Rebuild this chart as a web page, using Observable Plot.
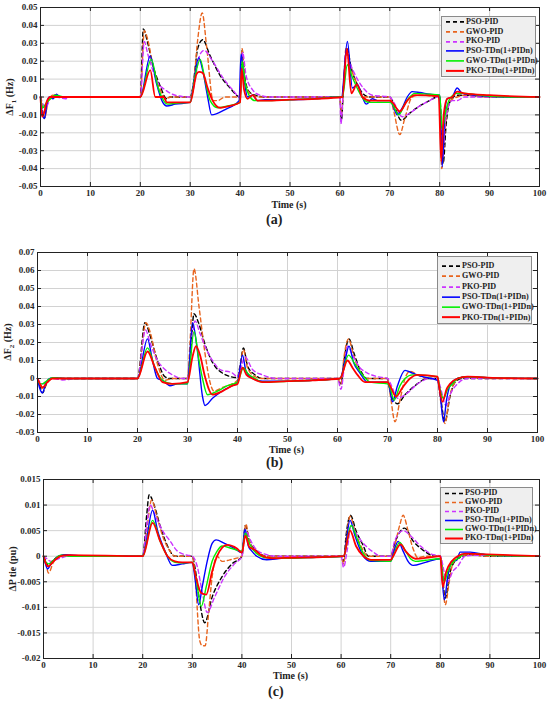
<!DOCTYPE html>
<html><head><meta charset="utf-8">
<script src="https://cdn.jsdelivr.net/npm/d3@7"></script>
<script src="https://cdn.jsdelivr.net/npm/@observablehq/plot@0.6"></script>
<style>
body{margin:0;background:#fff;}
#root{position:relative;width:550px;height:705px;font-family:"Liberation Serif","DejaVu Serif",serif;font-weight:bold;color:#222;background:#fff;overflow:hidden;}
.panel{position:absolute;left:0;}
.lbl{position:absolute;font-size:10px;font-weight:bold;white-space:nowrap;line-height:1;}
.cap{position:absolute;font-size:14px;font-weight:bold;line-height:1;}
.ylbl{position:absolute;font-size:10px;font-weight:bold;white-space:nowrap;transform:translate(-50%,-50%) rotate(-90deg);}
.legend{position:absolute;background:#efefef;border:1px solid #8a8a8a;font-size:8.1px;box-sizing:border-box;padding-left:3px;white-space:nowrap;overflow:visible;}
.li{display:flex;align-items:center;white-space:nowrap;}
.li svg{flex:none;}
.li span{margin-left:1px;line-height:1;white-space:nowrap;flex:none;}
</style></head>
<body><div id="root"></div>
<script>
const SERIES = ["PSO-PID","GWO-PID","PKO-PID","PSO-TDn(1+PIDn)","GWO-TDn(1+PIDn)","PKO-TDn(1+PIDn)"];
const COLORS = ["#000000","#e8641e","#cc33ff","#0000ff","#00f000","#ff0000"];
const DASH = ["4,3","4,3","4,3",null,null,null];
const WIDTHS = [1.4,1.4,1.4,1.4,1.4,1.8];
const X_TICKS = [0,10,20,30,40,50,60,70,80,90,100];

// ---- Panel (a): ΔF1 ----
const A_YTICKS = [-0.05,-0.04,-0.03,-0.02,-0.01,0,0.01,0.02,0.03,0.04,0.05];
const A_PSO_PID = [[0,0],[0.3,-0.006],[0.8,-0.012],[1.3,-0.004],[2,0],[3,0.001],[4,0],[20,0],[20.6,0.038],[21.5,0.03],[22.5,0.018],[24,0.006],[25.3,-0.001],[26,0],[30,0],[30.5,0.005],[31.5,0.027],[32.5,0.032],[34,0.023],[36,0.012],[38,0.005],[40,0],[40.4,0.026],[41,0.01],[41.8,0.003],[43,0.001],[45,0],[60,0],[60.3,-0.013],[60.8,0.01],[61.4,0.027],[62.3,0.016],[63.5,0.007],[65,0.001],[66,0],[70,0],[70.5,-0.002],[72.3,-0.013],[74,-0.009],[76,-0.005],[78,-0.002],[79.5,0],[80,0],[80.7,-0.037],[81.3,-0.015],[82,-0.003],[83.5,0.001],[85,0.001],[90,0],[100,0]];
const A_GWO_PID = [[0,0],[0.4,-0.008],[0.9,-0.011],[1.5,-0.003],[2.5,0.001],[4,0],[20,0],[20.8,0.037],[21.5,0.032],[22.5,0.018],[24,0.004],[25,-0.001],[26,0],[30,0],[30.5,0.003],[31.5,0.032],[32.4,0.047],[33.3,0.028],[34.6,-0.002],[35.5,-0.002],[37,0],[40,0],[40.4,0.027],[41,0.008],[42,0.002],[44,0],[60,0],[60.3,-0.01],[60.9,0.015],[61.2,0.027],[62,0.018],[63.5,0.007],[65,0],[70,0],[70.8,-0.008],[72,-0.021],[73,-0.012],[74.5,0],[76,0.001],[80,0],[80.4,-0.04],[81,-0.02],[81.8,-0.003],[83.5,0],[85,0.001],[90,0],[100,0]];
const A_PKO_PID = [[0,0],[0.5,-0.004],[1,-0.006],[2,-0.001],[3,0],[5,-0.001],[6,0],[20,0],[20.8,0.031],[21.5,0.024],[22.5,0.015],[23.5,0.008],[25,0.004],[27,0.001],[30,0],[30.5,0.003],[32,0.024],[32.8,0.026],[34.5,0.02],[36.5,0.011],[38.5,0.004],[40,0],[40.5,0.025],[41.2,0.012],[42.5,0.004],[44,0.001],[46,0],[60,0],[60.2,-0.015],[60.7,0.005],[61.2,0.025],[62,0.019],[63.5,0.01],[65,0.004],[66.5,0.001],[70,0],[70.8,-0.003],[72.5,-0.011],[74,-0.009],[76,-0.005],[78,-0.002],[79.5,0],[80,0],[80.5,-0.035],[81.2,-0.012],[82.5,-0.002],[83.5,-0.002],[85,0],[90,0],[100,0]];
const A_PSO_TDN = [[0,0],[0.4,-0.01],[0.8,-0.012],[1.3,-0.003],[1.8,0],[2.5,-0.001],[3.2,0.0015],[4,0],[20,0],[22,0.023],[23.2,0.008],[24.5,-0.003],[25.3,-0.005],[27,-0.004],[30,-0.003],[30.8,0.01],[31.7,0.022],[32.5,0.015],[33.5,0],[34.3,-0.01],[37,-0.007],[39.8,-0.002],[40.2,0.024],[40.8,0.01],[41.5,0],[42.5,0.001],[43.5,-0.002],[45,-0.0015],[50,-0.0015],[55,-0.001],[59.8,0],[60.3,0],[61.5,0.031],[62.5,0.005],[63.5,0.007],[64.5,0],[65.3,-0.004],[66.5,-0.001],[67.5,-0.002],[70,-0.002],[70.5,-0.004],[71.5,-0.01],[72.5,-0.006],[73.5,0],[74.5,0.003],[76,0.0025],[78,0.0015],[80,0.001],[80.5,-0.039],[81,-0.01],[81.5,-0.001],[82.5,0],[83.5,0.005],[84.5,0.002],[87,0.001],[95,0],[100,0]];
const A_GWO_TDN = [[0,0],[0.5,-0.006],[1,-0.004],[2,-0.001],[3,0.001],[5,0],[20,0],[22.2,0.021],[23.5,0.006],[25.5,-0.004],[27,-0.0035],[30,-0.003],[31,0.012],[32,0.021],[33,0.009],[34,-0.002],[35.5,-0.006],[37.5,-0.005],[40,-0.003],[40.4,0.02],[41,0.008],[42,0],[43,-0.002],[45,-0.002],[50,-0.0015],[55,-0.001],[60,0],[60.5,0],[61.5,0.018],[62.5,0.011],[64,0.002],[65,-0.002],[66,-0.003],[70,-0.003],[70.5,-0.004],[71.8,-0.01],[73,-0.004],[74,0],[75,0.002],[78,0.0015],[80,0.001],[80.5,-0.018],[81.2,-0.008],[82,-0.001],[83.5,0.002],[85,0.002],[88,0.001],[95,0],[100,0]];
const A_PKO_TDN = [[0,0],[0.3,-0.011],[0.7,-0.009],[1.2,-0.003],[2,0],[3,0],[20,0],[22,0.015],[23,0],[24.7,0],[25.3,-0.003],[30,-0.003],[31.3,0.013],[31.8,0.014],[32.5,0.0135],[33.5,0.005],[34.5,-0.002],[36,-0.006],[38,-0.005],[40,-0.003],[40.3,0.016],[40.8,0.004],[41.5,-0.001],[42.5,0.001],[43.5,-0.002],[45,-0.002],[50,-0.0015],[55,-0.001],[60.5,0],[61.4,0.027],[62.3,0.002],[63.4,0.007],[64.5,0],[66,-0.002],[70,-0.002],[70.5,-0.003],[72,-0.008],[73.5,-0.002],[75,0.001],[79.8,0.0005],[80.3,-0.036],[80.8,-0.01],[81.5,-0.001],[82.5,0],[83.5,0.003],[85,0.002],[90,0.001],[100,0]];

// ---- Panel (b): ΔF2 ----
const B_YTICKS = [-0.03,-0.02,-0.01,0,0.01,0.02,0.03,0.04,0.05,0.06,0.07];
const B_PSO_PID = [[0,0],[0.5,-0.004],[1,-0.008],[1.8,-0.003],[3,0.0005],[5,0],[20,0],[21.5,0.031],[22.5,0.024],[24,0.01],[25.5,0.001],[26.5,0],[30,0],[30.5,0.01],[31.3,0.036],[32.2,0.031],[33.5,0.019],[35,0.009],[37,0.003],[40,0.0005],[40.5,0.007],[41.2,0.017],[42,0.007],[43.5,0.002],[45,0],[60,0],[60.7,-0.003],[61.3,0.01],[62.3,0.022],[63.3,0.014],[64.5,0.005],[66,0],[70,0],[70.6,-0.008],[72,-0.014],[73.5,-0.009],[75.5,-0.004],[78,0],[80,0],[80.5,-0.008],[81.5,-0.024],[82.5,-0.01],[83.5,-0.002],[85,0],[90,0],[100,0]];
const B_GWO_PID = [[0,0],[0.5,-0.003],[1.1,-0.006],[2,-0.002],[3,0],[20,0],[21.7,0.031],[22.5,0.026],[24,0.008],[25.5,-0.001],[27,0],[30,0],[30.5,0.02],[31.3,0.061],[32.3,0.04],[33.5,0.014],[34.5,-0.002],[35.3,-0.007],[37,-0.005],[40,-0.001],[40.5,0.006],[41.2,0.016],[42,0.006],[43.5,0.001],[45,0],[60,0],[60.7,-0.003],[61.3,0.012],[62.2,0.022],[63.2,0.013],[64.5,0.004],[66,0],[70,0],[70.6,-0.01],[71.5,-0.024],[72.5,-0.012],[73.5,0],[74.5,0.004],[76,0.002],[78,0],[80,0],[80.5,-0.01],[81.5,-0.025],[82.3,-0.012],[83.5,-0.002],[85,0.001],[90,0],[100,0]];
const B_PKO_PID = [[0,0],[1,-0.003],[2,-0.001],[3,0],[5,-0.0008],[8,0],[20,0],[21.6,0.027],[22.5,0.02],[24,0.01],[25.5,0.005],[27,0.002],[29,0],[30,0],[30.5,0.01],[31.5,0.032],[32.5,0.025],[33.5,0.018],[35,0.01],[36.5,0.005],[39,0.003],[40,0.001],[40.6,0.005],[41.5,0.012],[43,0.005],[45,0.002],[48,0],[60,0],[60.7,-0.006],[61.3,0.005],[62,0.018],[63,0.013],[64.5,0.006],[66,0.003],[68,0.001],[70,0],[70.8,-0.004],[72,-0.011],[74,-0.008],[76,-0.003],[78.5,0],[80,0],[80.5,-0.004],[81.7,-0.015],[82.5,-0.009],[84,-0.003],[86,0],[100,0]];
const B_PSO_TDN = [[0,0],[0.4,-0.005],[1,-0.008],[1.6,-0.003],[2.5,0],[3.5,0.0005],[5,0],[20,0],[22,0.022],[23,0.01],[24,0],[25,-0.001],[26.5,-0.004],[28,-0.003],[30,-0.003],[31,0.031],[32,0.015],[33,-0.01],[33.5,-0.015],[35,-0.011],[37.5,-0.006],[40,-0.002],[41,0.013],[41.7,0.004],[43,0],[45,-0.0015],[50,-0.0015],[55,-0.001],[60.5,0],[61.5,0.01],[62.3,0.018],[63.2,0.009],[64.5,0.003],[66,-0.002],[70,-0.002],[70.4,-0.005],[71,-0.013],[72,-0.004],[73.5,0.0045],[75,0.003],[77,0.001],[80,-0.001],[80.5,-0.008],[81.2,-0.024],[81.8,-0.012],[82.5,-0.004],[84,0],[86,0.001],[90,0.0005],[100,0]];
const B_GWO_TDN = [[0,0],[0.5,-0.003],[1,-0.003],[2,-0.001],[3,0.0005],[5,0],[20,0],[22,0.017],[23.5,0.006],[25,-0.001],[27,-0.003],[30,-0.003],[31.3,0.026],[32.3,0.01],[33,0],[34,-0.009],[36,-0.007],[38,-0.004],[40,-0.002],[41.2,0.006],[42,0.003],[43.5,0],[45,-0.002],[50,-0.0015],[55,-0.001],[60.5,0],[62.2,0.013],[63.5,0.008],[65,0.002],[66.5,-0.002],[70,-0.003],[70.5,-0.005],[71.3,-0.012],[72.5,-0.004],[73.5,0],[75,0.002],[80,0.001],[80.5,-0.006],[81.2,-0.011],[82,-0.006],[83,-0.003],[84,0],[86,0.001],[90,0.0005],[100,0]];
const B_PKO_TDN = [[0,0],[0.5,-0.003],[1,-0.005],[2,-0.002],[3,0],[20,0],[22,0.015],[23.5,0.006],[25,-0.002],[27,-0.003],[30,-0.002],[31,0.012],[31.7,0.018],[32.5,0.013],[33.5,0.001],[35,-0.009],[37,-0.007],[39,-0.004],[40,-0.003],[41,0.006],[41.8,0.002],[43,0],[45,-0.002],[50,-0.0015],[55,-0.001],[60.5,0],[62,0.01],[63,0.006],[64,0.002],[65.5,-0.002],[70,-0.002],[70.5,-0.004],[71.7,-0.01],[73,-0.005],[74.5,0],[76,0.002],[80,0.001],[80.3,-0.004],[81,-0.013],[81.8,-0.006],[82.5,-0.003],[84,0],[86,0.001],[90,0.0005],[100,0]];

// ---- Panel (c): ΔPtie ----
const C_YTICKS = [-0.02,-0.015,-0.01,-0.005,0,0.005,0.01,0.015];
const C_PSO_PID = [[0,0],[0.5,-0.001],[1,-0.002],[2,-0.0008],[4,0.0002],[6,0],[20,0],[20.8,0.008],[21.3,0.012],[22.3,0.01],[23.5,0.006],[25,0.002],[26.5,0],[30,0],[30.5,-0.002],[31.5,-0.009],[32.5,-0.013],[34,-0.008],[36,-0.004],[38,-0.0015],[40,0],[40.7,0.006],[41.5,0.003],[43,0.001],[45,0],[60,0],[60.5,-0.001],[61,0.004],[61.9,0.008],[63,0.005],[64.5,0.002],[65.5,0],[70,0],[70.8,0.0025],[72.8,0.0055],[74.5,0.003],[76.5,0.0012],[79,0],[80,0],[81,-0.0082],[82,-0.003],[83.5,-0.0005],[86,0.0003],[90,0],[100,0]];
const C_GWO_PID = [[0,0],[0.5,-0.0015],[1,-0.0033],[2,-0.0012],[3.5,0],[5,0.0002],[7,0],[20,0],[20.8,0.005],[21.8,0.011],[22.8,0.008],[24,0.004],[25.5,0.001],[26.5,0],[30,0],[30.5,-0.003],[31.5,-0.0165],[32,-0.0175],[32.6,-0.0175],[33.3,-0.011],[34,-0.004],[35,0],[36,-0.001],[38,-0.0006],[40,0],[40.8,0.0063],[41.5,0.003],[43,0.0008],[45,0],[60,0],[60.5,-0.0015],[61,0.003],[61.8,0.0078],[62.8,0.005],[64,0.002],[65.5,0],[70,0],[70.5,0.001],[71.8,0.006],[72.5,0.008],[73.5,0.005],[74.5,0.0015],[75.5,-0.0003],[77,0],[80,0],[81,-0.0095],[81.8,-0.005],[82.5,-0.0015],[84,0],[86,0.0003],[90,0],[100,0]];
const C_PKO_PID = [[0,0],[0.7,-0.0005],[1.5,-0.001],[3,-0.0005],[5,0],[20,0],[20.8,0.006],[21.5,0.01],[22.5,0.008],[24,0.005],[25.5,0.003],[27,0.001],[29,0.0002],[30,0],[31,-0.002],[32,-0.007],[33,-0.011],[34.5,-0.008],[36.5,-0.004],[38.5,-0.0015],[40,0],[40.8,0.005],[41.8,0.003],[43,0.0012],[45,0.0003],[47,0],[60,0],[60.5,-0.0022],[61.2,0.001],[62,0.006],[63.3,0.004],[65,0.002],[66.5,0.0008],[68,0],[70,0],[70.8,0.003],[72.5,0.005],[74,0.004],[76,0.002],[78,0.0005],[80,0],[81,-0.004],[81.5,-0.005],[82.5,-0.003],[83.5,-0.002],[85,0],[87,0.0002],[100,0]];
const C_PSO_TDN = [[0,0],[0.4,-0.0015],[0.8,-0.0025],[1.5,-0.0015],[3,0],[4.5,0.0003],[7,0.0001],[20,0],[22,0.009],[23,0.005],[24.5,0.001],[26,-0.0018],[28,-0.0015],[30,-0.0012],[30.5,-0.004],[31.3,-0.0095],[32,-0.006],[33,-0.001],[34,0.0025],[34.8,0.0032],[36.5,0.0025],[38.5,0.0015],[40,0.0007],[40.6,0.0053],[41.3,0.002],[42,0.001],[43,0],[45,-0.0007],[48,-0.0004],[55,-0.0002],[60.5,0],[61.8,0.007],[62.8,0.004],[64.5,0],[66,-0.001],[70,-0.001],[70.5,0.0005],[71.5,0.0029],[72.5,0.001],[73.5,-0.001],[74.5,-0.0018],[77,-0.0012],[80,-0.0005],[80.8,-0.0085],[81.5,-0.004],[82.3,-0.001],[83.3,-0.0008],[84,0.0008],[86,0.0008],[90,0.0002],[100,0]];
const C_GWO_TDN = [[0,0],[0.5,-0.0012],[1,-0.0015],[2,-0.0008],[3.5,0.0002],[6,0],[20,0],[22,0.007],[23.5,0.003],[25,0],[26.5,-0.0012],[28,-0.0013],[30,-0.0012],[30.7,-0.004],[31.8,-0.0098],[32.8,-0.006],[34,-0.001],[35,0.001],[36,0.002],[38,0.0015],[40,0.001],[40.7,0.0045],[41.5,0.0025],[43,0.0005],[45,-0.0003],[50,-0.0004],[55,-0.0002],[60.5,0],[62,0.006],[63.2,0.0035],[64.5,0.0005],[66,-0.0008],[70,-0.001],[70.5,0],[71.8,0.0027],[73,0.001],[74,-0.0005],[75,-0.001],[77,-0.0008],[80,-0.0005],[80.8,-0.005],[81.5,-0.003],[82.5,-0.0012],[83.5,-0.0005],[85,0.0005],[87,0.0005],[90,0.0002],[100,0]];
const C_PKO_TDN = [[0,0],[0.5,-0.0015],[1,-0.002],[2,-0.001],[3.5,0],[5,0.0002],[20,0],[22,0.0065],[23.5,0.003],[25,0],[26.5,-0.001],[28,-0.0012],[30,-0.0012],[30.7,-0.004],[31.8,-0.0072],[32.8,-0.0075],[34,-0.003],[35,0],[37,0.0022],[39,0.0015],[40,0.0007],[40.7,0.004],[41.5,0.0018],[42.5,0.0013],[44,0.0001],[46,-0.0004],[50,-0.0003],[55,-0.0002],[60.5,0],[61.8,0.005],[63,0.002],[64.5,0],[66,-0.0007],[70,-0.0007],[70.5,0],[72,0.0023],[73,0.001],[74,0],[75,-0.0005],[78,-0.0002],[80,0],[80.5,-0.006],[81.2,-0.003],[82.3,-0.001],[83.5,0],[85,0.0005],[88,0.0004],[100,0]];

const root = document.getElementById("root");
const fmt = d => d === 0 ? "0" : String(+d.toFixed(3));

function panel(cfg){
  const rows = [];
  cfg.series.forEach((arr,i)=>arr.forEach(([t,v])=>rows.push({t,v,s:SERIES[i]})));
  const [y0,y1] = [cfg.yticks[0], cfg.yticks[cfg.yticks.length-1]];
  const ph = cfg.height - cfg.mt - cfg.mb, pw = 550 - cfg.ml - cfg.mr;
  const dy = (y1-y0)*4/ph, dx = 100*4/pw;
  const lines = SERIES.map((name,i)=>Plot.line(rows.filter(r=>r.s===name),{x:"t",y:"v",stroke:COLORS[i],strokeWidth:WIDTHS[i],strokeDasharray:DASH[i]||undefined,curve:"monotone-x"}));
  const inner = X_TICKS.slice(1,-1), innerY = cfg.yticks.slice(1,-1);
  const svg = Plot.plot({
    width:550, height:cfg.height, marginLeft:cfg.ml, marginRight:cfg.mr, marginTop:cfg.mt, marginBottom:cfg.mb,
    style:{fontFamily:"'Liberation Serif','DejaVu Serif',serif", fontWeight:"bold", fontSize:"9px", color:"#2a2a2a", background:"#fff", overflow:"visible"},
    x:{domain:[0,100]}, y:{domain:[y0,y1]},
    marks:[
      Plot.gridX(inner,{stroke:"#d2d2d2",strokeOpacity:1,strokeWidth:1}),
      Plot.gridY(innerY,{stroke:"#d2d2d2",strokeOpacity:1,strokeWidth:1}),
      ...lines,
      Plot.ruleX(inner,{y1:y0,y2:y0+dy,stroke:"#222"}),
      Plot.ruleX(inner,{y1:y1-dy,y2:y1,stroke:"#222"}),
      Plot.ruleY(innerY,{x1:0,x2:dx,stroke:"#222"}),
      Plot.ruleY(innerY,{x1:100-dx,x2:100,stroke:"#222"}),
      Plot.frame({stroke:"#222",strokeWidth:1}),
      Plot.axisX(X_TICKS,{tickSize:0,tickPadding:3,tickFormat:d=>String(d),label:null}),
      Plot.axisY(cfg.yticks,{tickSize:0,tickPadding:3,tickFormat:fmt,label:null})
    ]
  });
  svg.classList.add("panel");
  svg.style.top = cfg.top + "px";
  root.appendChild(svg);
  const cx = cfg.ml + pw/2;
  d3.select(root).append("div").attr("class","lbl").text("Time (s)")
    .style("left",(cx-18)+"px").style("top",(cfg.timeY-5)+"px");
  d3.select(root).append("div").attr("class","cap").text(cfg.cap)
    .style("left",(cfg.capX-10)+"px").style("top",(cfg.capY-7)+"px");
  d3.select(root).append("div").attr("class","ylbl").html(cfg.ylabel)
    .style("left",cfg.ylX+"px").style("top",(cfg.top+cfg.mt+ph/2)+"px");
  const lg = cfg.legend;
  const div = d3.select(root).append("div").attr("class","legend")
    .style("left",lg.x+"px").style("top",lg.y+"px").style("width",lg.w+"px").style("height",lg.h+"px")
    .style("padding-top",lg.pt+"px");
  SERIES.forEach((name,i)=>{
    const row = div.append("div").attr("class","li").style("height",lg.step+"px");
    const s = row.append("svg").attr("width",20).attr("height",lg.step);
    s.append("line").attr("x1",1).attr("x2",19).attr("y1",lg.step/2).attr("y2",lg.step/2)
      .attr("stroke",COLORS[i]).attr("stroke-width",WIDTHS[i]+0.2).attr("stroke-dasharray",DASH[i]);
    row.append("span").text(name);
  });
}

panel({top:0,height:212,ml:40,mr:11,mt:7,mb:26,yticks:A_YTICKS,
  series:[A_PSO_PID,A_GWO_PID,A_PKO_PID,A_PSO_TDN,A_GWO_TDN,A_PKO_TDN],
  ylabel:"ΔF<sub style='font-size:7px'>1</sub> (Hz)", ylX:11, timeY:205, cap:"(a)", capX:276, capY:220,
  legend:{x:441,y:16,w:95,h:61,step:9.8,pt:0}});
panel({top:240,height:212,ml:37,mr:13,mt:12,mb:20,yticks:B_YTICKS,
  series:[B_PSO_PID,B_GWO_PID,B_PKO_PID,B_PSO_TDN,B_GWO_TDN,B_PKO_TDN],
  ylabel:"ΔF<sub style='font-size:7px'>2</sub> (Hz)", ylX:9, timeY:450, cap:"(b)", capX:276, capY:463,
  legend:{x:437,y:256,w:95,h:68,step:10.3,pt:4}});
panel({top:470,height:212,ml:43,mr:11,mt:9,mb:24,yticks:C_YTICKS,
  series:[C_PSO_PID,C_GWO_PID,C_PKO_PID,C_PSO_TDN,C_GWO_TDN,C_PKO_TDN],
  ylabel:"ΔP tie (pu)", ylX:12, timeY:676, cap:"(c)", capX:278, capY:692,
  legend:{x:440,y:487,w:93,h:57,step:9,pt:1}});
</script></body></html>
